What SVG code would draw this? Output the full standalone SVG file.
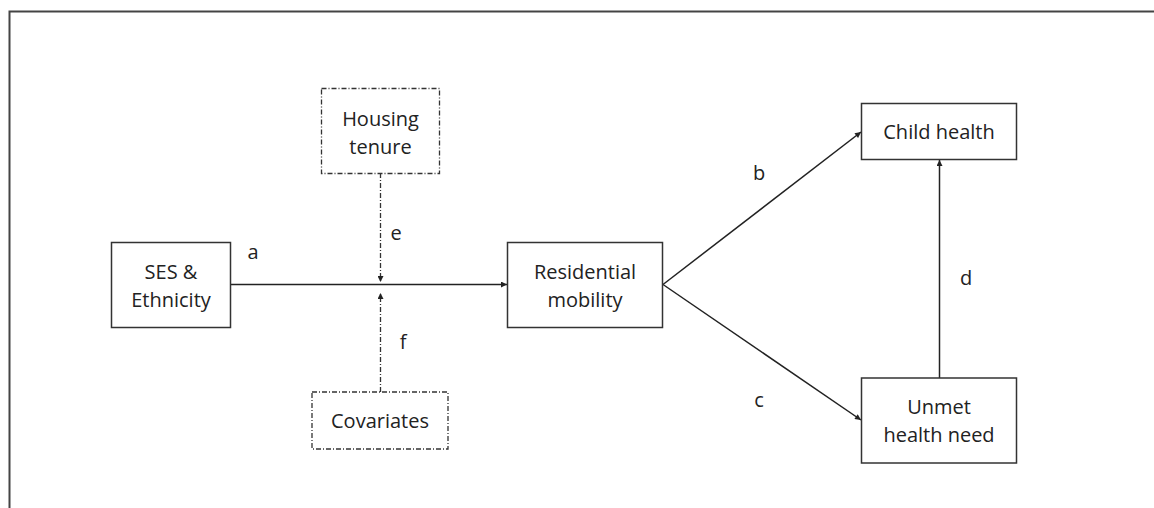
<svg xmlns="http://www.w3.org/2000/svg" width="1154" height="508" viewBox="0 0 1154 508">
<defs>
<marker id="ah" viewBox="0 0 10 10" refX="10" refY="5" markerWidth="8" markerHeight="6" markerUnits="userSpaceOnUse" orient="auto">
<path d="M0,0 L10,5 L0,10 Z" fill="#222"/>
</marker>
</defs>
<style>
.box{fill:#fff;stroke:#333;stroke-width:1.5}
.dbox{fill:#fff;stroke:#333;stroke-width:1.3;stroke-dasharray:5 2 1 2}
.t{font-family:"Open Sans","Liberation Sans",sans-serif;font-size:20px;fill:#222;text-anchor:middle}
.lbl{font-family:"Open Sans","Liberation Sans",sans-serif;font-size:20px;fill:#222;text-anchor:middle}
.c{fill:none;stroke:#222;stroke-width:1.5}
.dc{fill:none;stroke:#333;stroke-width:1.3;stroke-dasharray:5 2 1 2}
</style>
<rect width="1154" height="508" fill="#fff"/>
<path d="M9.5,508 V11.5 H1154" fill="none" stroke="#444" stroke-width="2"/>
<g id="connectors">
<line class="c" x1="231" y1="284.5" x2="507" y2="284.5" marker-end="url(#ah)"/>
<line class="dc" x1="380.5" y1="173" x2="380.5" y2="282" marker-end="url(#ah)"/>
<line class="dc" x1="380.5" y1="392" x2="380.5" y2="293" marker-end="url(#ah)"/>
<line class="c" x1="663" y1="284.5" x2="861" y2="132" marker-end="url(#ah)"/>
<line class="c" x1="663" y1="284.5" x2="861" y2="420" marker-end="url(#ah)"/>
<line class="c" x1="939.5" y1="378" x2="939.5" y2="160" marker-end="url(#ah)"/>
<text class="lbl" x="253" y="259">a</text>
<text class="lbl" x="759" y="180">b</text>
<text class="lbl" x="759" y="407">c</text>
<text class="lbl" x="966" y="285">d</text>
<text class="lbl" x="396" y="240">e</text>
<text class="lbl" x="403" y="349">f</text>
</g>
<g id="ses">
<rect class="box" x="111.5" y="242.5" width="119" height="85"/>
<text class="t" x="171" y="279">SES &amp;</text>
<text class="t" x="171" y="307">Ethnicity</text>
</g>
<g id="housing">
<rect class="dbox" x="321.5" y="88.5" width="118" height="85"/>
<text class="t" x="380.5" y="126">Housing</text>
<text class="t" x="380.5" y="154">tenure</text>
</g>
<g id="covariates">
<rect class="dbox" x="312" y="392" width="136" height="57"/>
<text class="t" x="380" y="428">Covariates</text>
</g>
<g id="residential">
<rect class="box" x="507.5" y="242.5" width="155" height="85"/>
<text class="t" x="585" y="279">Residential</text>
<text class="t" x="585" y="307">mobility</text>
</g>
<g id="child">
<rect class="box" x="861.5" y="103.5" width="155" height="56"/>
<text class="t" x="939" y="139">Child health</text>
</g>
<g id="unmet">
<rect class="box" x="861.5" y="378" width="155" height="85"/>
<text class="t" x="939" y="414">Unmet</text>
<text class="t" x="939" y="442">health need</text>
</g>
</svg>
